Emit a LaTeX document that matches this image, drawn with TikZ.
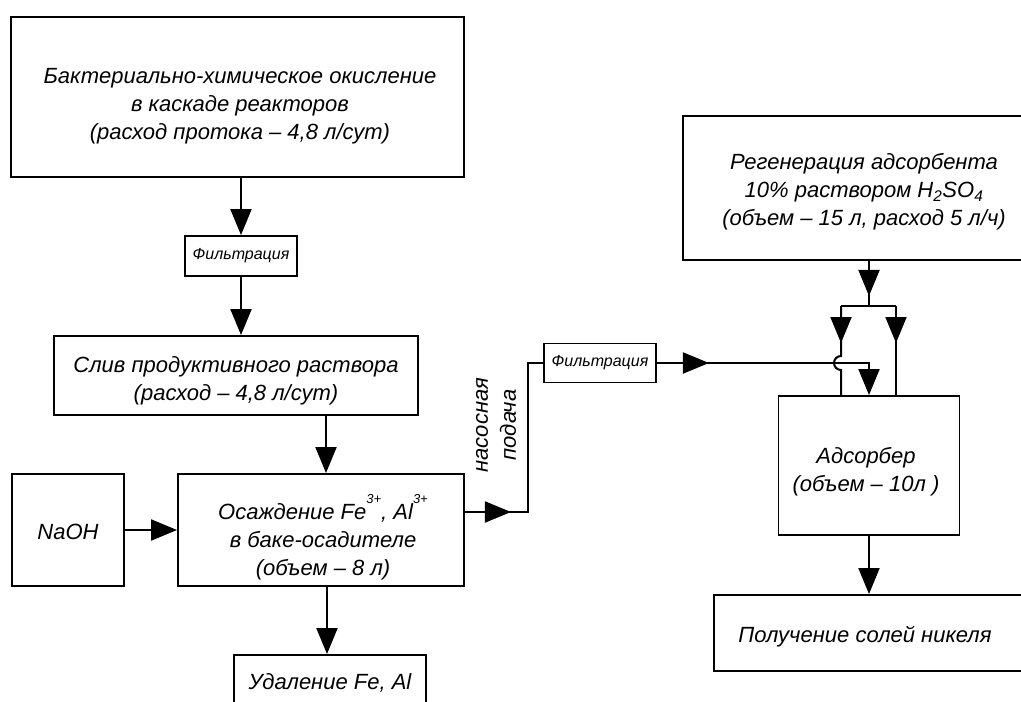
\documentclass[tikz,border=0pt]{standalone}
\usepackage{fontspec}
\setmainfont{Liberation Sans}
\usetikzlibrary{arrows.meta}
\begin{document}
\begin{tikzpicture}[x=1pt,y=-1pt,
  >={Triangle[length=26pt,width=21pt]},
  box/.style={draw, line width=1.9pt, inner sep=0pt},
  txt/.style={inner sep=0pt, align=center,
    font=\fontsize{22}{28}\selectfont\itshape},
  smallbox/.style={draw, line width=1.9pt, inner sep=0pt, align=center,
    font=\fontsize{16}{18}\selectfont\itshape},
  conn/.style={line width=2pt}]
\useasboundingbox (0,0) rectangle (1021,702);
\fill[white] (0,0) rectangle (1021,702);
\clip (0,0) rectangle (1021,702);

% boxes
\node[box, minimum width=453pt, minimum height=160pt] (top) at (237.5,97) {};
\node[smallbox, minimum width=112pt, minimum height=40pt] (filt1) at (241,256) {Фильтрация};
\node[box, minimum width=364pt, minimum height=79pt] (sliv) at (236,375.5) {};
\node[box, minimum width=112pt, minimum height=112pt] (naoh) at (68,530) {};
\node[box, minimum width=286pt, minimum height=112pt] (osazh) at (321,530) {};
\node[box, minimum width=192pt, minimum height=57pt] (udal) at (330,683.5) {};
\node[smallbox, minimum width=112pt, minimum height=39pt] (filt2) at (600,363) {Фильтрация};
\node[box, minimum width=357pt, minimum height=144pt] (regen) at (861.5,188) {};
\node[box, minimum width=181pt, minimum height=139pt] (ads) at (869,465.5) {};
\node[box, minimum width=316pt, minimum height=76pt] (poluch) at (872,633) {};

% texts
\node[txt] (tTop) at (240,106)
  {Бактериально-химическое окисление\\в каскаде реакторов\\(расход протока – 4,8 л/сут)};
\node[txt] (tSliv) at (236,381) {Слив продуктивного раствора\\(расход – 4,8 л/сут)};
\node[txt] (tNaoh) at (68,532) {NaOH};
\node[txt] (tOsazh) at (323,537)
  {Осаждение Fe\raisebox{0.75em}{\fontsize{13}{13}\selectfont 3+}, Al\raisebox{0.75em}{\fontsize{13}{13}\selectfont 3+}\\в баке-осадителе\\(объем – 8 л)};
\node[txt] (tUdal) at (330,683) {Удаление Fe, Al};
\node[txt, rotate=90] (pump) at (496,425) {насосная\\подача};
\node[txt] (tRegen) at (864,192)
  {Регенерация адсорбента\\10\% раствором H\textsubscript{2}SO\textsubscript{4}\\(объем – 15 л, расход 5 л/ч)};
\node[txt] (tAds) at (866,472) {Адсорбер\\(объем – 10л )};
\node[txt] (tPoluch) at (865,637) {Получение солей никеля};

% connectors
\draw[conn,->] (top.south -| filt1.north) -- (filt1.north);
\draw[conn,->] (filt1.south) -- (filt1.south |- sliv.north);
\draw[conn,->] ([xshift=5pt]osazh.north |- sliv.south) -- ([xshift=5pt]osazh.north);
\draw[conn,->] (naoh.east) -- (osazh.west);
\draw[conn,->] ([xshift=-3pt]udal.north |- osazh.south) -- ([xshift=-3pt]udal.north);

\coordinate (p1) at ([yshift=18pt]osazh.east);
\draw[conn,->] (p1) -- ++(46,0);
\draw[conn] (p1) -- ++(63,0) |- (filt2.west);

\draw[conn,->] (filt2.east) -- ++(52,0);
\draw[conn,->] (filt2.east) -- (filt2.east -| ads.north) -- (ads.north);

\coordinate (r0) at (regen.south -| ads.north);
\draw[conn,->] (r0) -- ++(0,35);
\draw[conn] (r0) -- ++(0,46);
\coordinate (jl) at (841,306);
\coordinate (jr) at (896,306);
\draw[conn] (jl) -- (jr);
\coordinate (h) at (jl |- filt2.east);
\draw[conn,->] (jl) -- ++(0,37);
\draw[conn] (jl) -- ([yshift=7pt]h) arc[start angle=90,end angle=270,radius=7pt] -- (jl |- ads.north);
\draw[conn,->] (jr) -- ++(0,37);
\draw[conn] (jr) -- (jr |- ads.north);

\draw[conn,->] (ads.south) -- (ads.south |- poluch.north);
\end{tikzpicture}
\end{document}
